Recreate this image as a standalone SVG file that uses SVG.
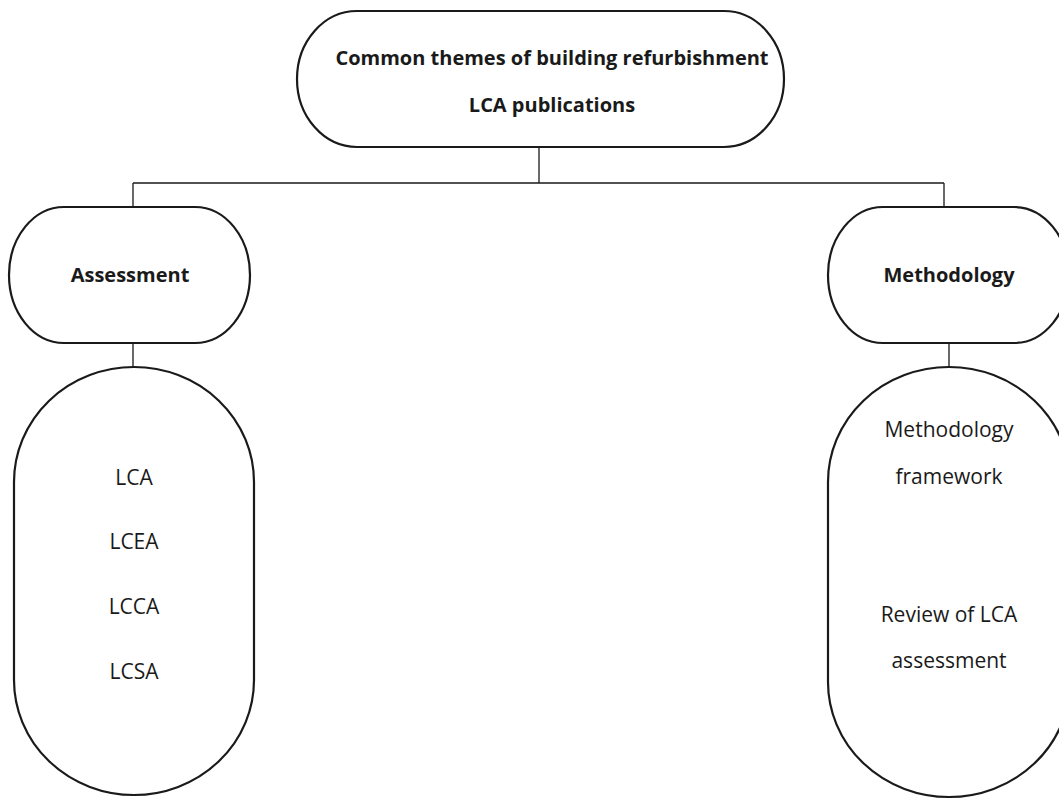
<svg xmlns="http://www.w3.org/2000/svg" width="1059" height="807" viewBox="0 0 1059 807">
<style>
.node{fill:#fff;stroke:#1a1a1a;stroke-width:2.2}
.conn{stroke:#1a1a1a;stroke-width:1.3;fill:none}
.b{font-family:"Open Sans","Liberation Sans",sans-serif;font-weight:bold;font-size:20px;fill:#1a1a1a;text-anchor:middle}
.t{font-family:"Open Sans","Liberation Sans",sans-serif;font-size:21px;fill:#1a1a1a;text-anchor:middle}
</style>
<rect width="1059" height="807" fill="#fff"/>
<g id="connectors">
<path class="conn" d="M539,147 V183 M133,183 H944 M133,183 V207 M944,183 V207 M133,343 V367 M949,343 V367"/>
</g>
<g id="root">
<rect class="node" x="297" y="11" width="487" height="136" rx="60" ry="68"/>
<text class="b" x="552" y="65">Common themes of building refurbishment</text>
<text class="b" x="552" y="112">LCA publications</text>
</g>
<g id="assessment">
<rect class="node" x="9" y="207" width="241" height="136" rx="55" ry="68"/>
<text class="b" x="130" y="282">Assessment</text>
</g>
<g id="methodology">
<rect class="node" x="828" y="207" width="241" height="136" rx="55" ry="68"/>
<text class="b" x="949" y="282">Methodology</text>
</g>
<g id="assessment-list">
<rect class="node" x="14" y="367" width="240" height="428" rx="120" ry="115"/>
<text class="t" x="134" y="485">LCA</text>
<text class="t" x="134" y="549">LCEA</text>
<text class="t" x="134" y="614">LCCA</text>
<text class="t" x="134" y="679">LCSA</text>
</g>
<g id="methodology-list">
<rect class="node" x="828" y="367" width="242" height="430" rx="121" ry="115"/>
<text class="t" x="949" y="437">Methodology</text>
<text class="t" x="949" y="484">framework</text>
<text class="t" x="949" y="622">Review of LCA</text>
<text class="t" x="949" y="668">assessment</text>
</g>
</svg>
